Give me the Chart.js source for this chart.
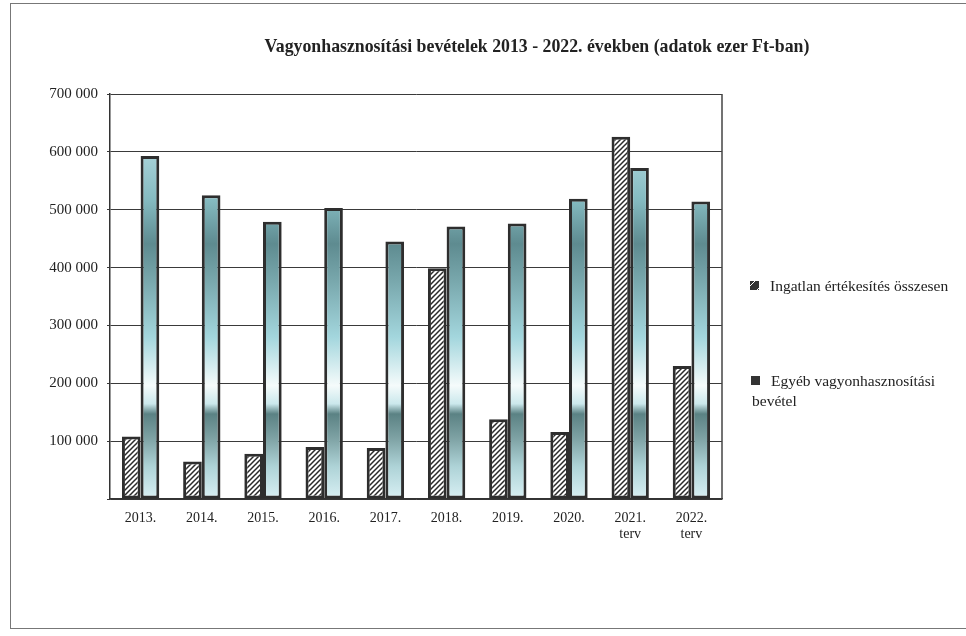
<!DOCTYPE html>
<html>
<head>
<meta charset="utf-8">
<script src="https://cdn.jsdelivr.net/npm/chart.js@4"></script>
<style>
  html, body { margin: 0; padding: 0; background: #fff; }
  #wrap { position: relative; width: 966px; height: 636px; overflow: hidden; }
  #frame { position: absolute; left: 10px; top: 3px; width: 970px; height: 626px; border: 1px solid #777; box-sizing: border-box; }
  #cim { position: absolute; left: 150px; width: 774px; top: 36px; text-align: center;
         font: bold 17.8px "Liberation Serif", serif; color: #222; }
  .jel { position: absolute; font: 15.5px "Liberation Serif", serif; color: #222; line-height: 20px; }
  .jel i { position: absolute; left: -20px; top: 5px; width: 9px; height: 9px; background: #333; }
  .jel i.a { background: repeating-linear-gradient(135deg, #333 0 3px, #fff 3px 4px, #333 4px 8px); }
  canvas { position: absolute; left: 0; top: 0; }
</style>
</head>
<body>
<div id="wrap">
  <div id="frame"></div>
  <canvas id="grafikon" width="966" height="636"></canvas>
  <div id="cim">Vagyonhasznosítási bevételek 2013 - 2022. években (adatok ezer Ft-ban)</div>
  <div class="jel" style="left:770px; top:276px;"><i class="a"></i>Ingatlan értékesítés összesen</div>
  <div class="jel" style="left:771px; top:371px;"><i></i>Egyéb vagyonhasznosítási</div>
  <div class="jel" style="left:752px; top:391px;">bevétel</div>
</div>
<script>
// ==================== Adatok ====================
const evek = [['2013.'], ['2014.'], ['2015.'], ['2016.'], ['2017.'], ['2018.'], ['2019.'], ['2020.'], ['2021.', 'terv'], ['2022.', 'terv']];
const ingatlan = [108000, 65000, 78000, 90000, 88000, 399000, 138000, 116000, 626000, 230000];
const egyeb = [593000, 525000, 479000, 503000, 445000, 471000, 476000, 519000, 572000, 514000];
const yTicks = [0, 100000, 200000, 300000, 400000, 500000, 600000, 700000];

const ctx = document.getElementById('grafikon').getContext('2d');

// Ferde vonalkázás a "Ingatlan" oszlopokhoz
function csikos() {
  const c = document.createElement('canvas');
  c.width = 5; c.height = 5;
  const g = c.getContext('2d');
  g.fillStyle = '#fff';
  g.fillRect(0, 0, 5, 5);
  g.strokeStyle = '#2a2a2a';
  g.lineWidth = 1.5;
  g.beginPath();
  g.moveTo(-1, 6); g.lineTo(6, -1);
  g.moveTo(-1, 1); g.lineTo(1, -1);
  g.moveTo(4, 6); g.lineTo(6, 4);
  g.stroke();
  return g.createPattern(c, 'repeat');
}

// Színátmenet a másik sorozathoz (érték szerinti sávok)
function szinatmenet(context) {
  const chart = context.chart;
  if (!chart.chartArea) return '#9cc9ce';
  const y = chart.scales.y;
  const y0 = y.getPixelForValue(0);
  const y1 = y.getPixelForValue(700000);
  const gr = chart.ctx.createLinearGradient(0, y0, 0, y1);
  gr.addColorStop(0, '#d9f0f4');
  gr.addColorStop(0.08, '#aed3d7');
  gr.addColorStop(0.15, '#7ea2a4');
  gr.addColorStop(0.21, '#5b8284');
  gr.addColorStop(0.235, '#cbe8ec');
  gr.addColorStop(0.28, '#f5fbfb');
  gr.addColorStop(0.40, '#a3d6dd');
  gr.addColorStop(0.54, '#78a7ac');
  gr.addColorStop(0.63, '#5e8b90');
  gr.addColorStop(0.74, '#85bbc1');
  gr.addColorStop(0.86, '#aad4d9');
  gr.addColorStop(1, '#c8e6ea');
  return gr;
}

function ezres(v) {
  if (v === 0) return '';
  return String(v).replace(/\B(?=(\d{3})+(?!\d))/g, ' ');
}

// Rajzterület jobb oldali kerete
const keret = {
  id: 'keret',
  afterDatasetsDraw(chart) {
    const a = chart.chartArea;
    const c = chart.ctx;
    c.save();
    c.strokeStyle = '#444';
    c.lineWidth = 1.5;
    c.beginPath();
    c.moveTo(a.right, a.top);
    c.lineTo(a.right, a.bottom);
    c.stroke();
    c.restore();
  }
};

new Chart(ctx, {
  type: 'bar',
  data: {
    labels: evek,
    datasets: [
      {
        label: 'Ingatlan értékesítés összesen',
        data: ingatlan,
        backgroundColor: csikos(),
        borderColor: '#2e2e2e',
        borderWidth: 3,
        borderSkipped: false
      },
      {
        label: 'Egyéb vagyonhasznosítási bevétel',
        data: egyeb,
        backgroundColor: szinatmenet,
        borderColor: '#2e2e2e',
        borderWidth: 3,
        borderSkipped: false
      }
    ]
  },
  options: {
    responsive: false,
    animation: false,
    categoryPercentage: 0.61,
    barPercentage: 1,
    layout: { padding: { left: 0, top: 94, right: 244, bottom: 0 } },
    plugins: {
      legend: { display: false },
      title: { display: false },
      tooltip: { enabled: false }
    },
    scales: {
      x: {
        grid: { display: false, drawTicks: false },
        border: { display: true, color: '#333', width: 1.5 },
        ticks: {
          color: '#222',
          padding: 12,
          maxRotation: 0,
          font: { family: 'Liberation Serif', size: 14, lineHeight: 1.1 }
        },
        afterFit(s) { s.height = 137; }
      },
      y: {
        min: 0,
        max: 700000,
        afterBuildTicks(s) { s.ticks = yTicks.map(v => ({ value: v })); },
        grid: { color: '#3a3a3a', lineWidth: 1, tickLength: 3 },
        border: { display: true, color: '#333', width: 1.5 },
        ticks: {
          color: '#222',
          padding: 9,
          font: { family: 'Liberation Serif', size: 15 },
          callback: v => ezres(v)
        },
        afterFit(s) { s.width = 110; }
      }
    }
  },
  plugins: [keret]
});
</script>
</body>
</html>
